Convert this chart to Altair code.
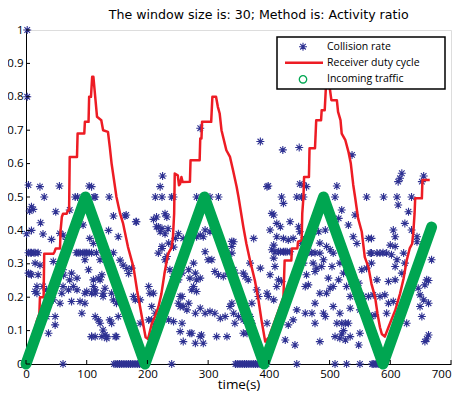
import altair as alt
import pandas as pd

title_text = "The window size is: 30; Method is: Activity ratio"
x_title = "time(s)"
legend_labels = ["Collision rate", "Receiver duty cycle", "Incoming traffic"]
x_ticks = [0, 100, 200, 300, 400, 500, 600, 700]
y_ticks = [0, 0.1, 0.2, 0.3, 0.4, 0.5, 0.6, 0.7, 0.8, 0.9, 1]

BLUE = "#2e3192"
RED = "#ed1c24"
GREEN = "#00a651"
FONT = "Open Sans"

# Incoming traffic (triangle wave vertices)
traffic_t = [0, 98, 196, 294, 392, 490, 588, 668]
traffic_v = [0, 0.5, 0, 0.5, 0, 0.5, 0, 0.41]

# Receiver duty cycle (t, value)
duty_cycle = [
    (0, 0.02), (10, 0.07), (18, 0.13), (22, 0.15), (23, 0.2), (29, 0.2), (30, 0.33), (45, 0.33),
    (47, 0.336), (49, 0.346), (56, 0.346), (57, 0.40), (59, 0.44), (61, 0.45), (67, 0.45), (69, 0.46),
    (71, 0.46), (72, 0.62), (84, 0.62), (85, 0.69), (96, 0.69), (97, 0.725), (103, 0.725), (104, 0.80),
    (107, 0.80), (109, 0.86), (111, 0.86), (114, 0.80), (117, 0.74), (124, 0.73), (127, 0.70),
    (135, 0.695), (138, 0.65), (141, 0.60), (145, 0.55), (149, 0.50), (155, 0.45), (160, 0.42),
    (168, 0.35), (177, 0.29), (183, 0.22), (188, 0.17), (193, 0.12), (197, 0.08), (201, 0.075),
    (207, 0.12), (212, 0.14), (218, 0.17), (223, 0.21), (228, 0.27), (234, 0.33), (240, 0.35),
    (242, 0.38), (244, 0.45), (245, 0.57), (250, 0.565), (252, 0.535), (254, 0.54), (256, 0.56),
    (258, 0.545), (270, 0.546), (271, 0.61), (286, 0.61), (287, 0.675), (289, 0.675), (290, 0.725),
    (305, 0.725), (307, 0.80), (313, 0.80), (316, 0.77), (319, 0.75), (322, 0.70), (330, 0.64),
    (336, 0.62), (341, 0.58), (347, 0.53), (350, 0.50), (358, 0.41), (363, 0.36), (369, 0.31),
    (377, 0.25), (383, 0.19), (388, 0.13), (394, 0.067), (400, 0.08), (410, 0.13), (418, 0.17),
    (424, 0.20), (426, 0.31), (437, 0.31), (438, 0.346), (447, 0.346), (448, 0.366), (454, 0.37),
    (455, 0.45), (457, 0.50), (458, 0.56), (466, 0.56), (467, 0.646), (476, 0.646), (478, 0.73),
    (486, 0.73), (487, 0.76), (492, 0.76), (494, 0.83), (497, 0.87), (500, 0.83), (503, 0.79),
    (512, 0.79), (514, 0.755), (518, 0.73), (520, 0.69), (526, 0.67), (531, 0.636), (535, 0.60),
    (539, 0.536), (542, 0.50), (547, 0.436), (553, 0.396), (558, 0.32), (564, 0.29), (569, 0.24),
    (575, 0.20), (579, 0.15), (583, 0.11), (586, 0.09), (591, 0.082), (597, 0.11), (608, 0.16),
    (616, 0.21), (622, 0.257), (627, 0.31), (632, 0.346), (636, 0.36), (638, 0.396), (640, 0.45),
    (641, 0.496), (652, 0.496), (653, 0.551), (665, 0.551),
]

# Collision rate (t, value), grouped by traffic cycle
collision_a = [
    (2, 1.0), (2, 0.8), (4, 0.536), (23, 0.531), (55, 0.533), (104, 0.533),
    (30, 0.5), (81, 0.5), (85, 0.5), (112, 0.5),
    (9, 0.471), (12, 0.463), (6, 0.458), (49, 0.456), (72, 0.461),
    (24, 0.423), (1, 0.39), (9, 0.4), (28, 0.389), (42, 0.373), (56, 0.391), (61, 0.386), (67, 0.373),
    (70, 0.366), (94, 0.416), (105, 0.376),
    (4, 0.333), (7, 0.333), (9, 0.333), (13, 0.333), (15, 0.333), (20, 0.333), (83, 0.333), (86, 0.333),
    (89, 0.333), (94, 0.333), (97, 0.333), (100, 0.333), (104, 0.333), (108, 0.333),
    (15, 0.302), (23, 0.296), (4, 0.272), (7, 0.27), (9, 0.267), (20, 0.267), (45, 0.307), (61, 0.282),
    (62, 0.266), (72, 0.252), (75, 0.272), (84, 0.257), (97, 0.312), (103, 0.282), (111, 0.252),
    (18, 0.232), (15, 0.217), (18, 0.212), (28, 0.232), (34, 0.222), (59, 0.212), (61, 0.232), (70, 0.222),
    (78, 0.232), (84, 0.222), (97, 0.212), (100, 0.217), (108, 0.212),
    (45, 0.192), (56, 0.182), (75, 0.187), (89, 0.187), (97, 0.182),
    (92, 0.152), (48, 0.142), (34, 0.142), (48, 0.117), (37, 0.092), (108, 0.082), (61, 0.0),
]
collision_b = [
    (108, 0.531), (114, 0.5), (137, 0.5), (116, 0.333), (122, 0.252), (127, 0.212), (141, 0.212), (114, 0.222),
    (144, 0.443), (163, 0.443), (165, 0.446), (181, 0.426), (182, 0.426), (210, 0.433), (215, 0.411), (221, 0.396),
    (136, 0.4), (152, 0.381), (111, 0.361), (136, 0.311),
    (144, 0.333), (155, 0.311), (160, 0.296), (166, 0.286), (169, 0.271), (174, 0.287),
    (122, 0.312), (125, 0.267), (119, 0.257), (111, 0.232), (130, 0.227), (114, 0.212), (127, 0.202),
    (144, 0.192), (149, 0.182), (177, 0.202), (180, 0.192), (188, 0.192), (204, 0.212), (202, 0.232), (210, 0.212),
    (114, 0.142), (119, 0.132), (127, 0.102), (133, 0.082), (141, 0.122), (152, 0.142), (188, 0.122), (207, 0.172),
    (138, 0.132), (122, 0.122),
    (108, 0.082), (114, 0.082), (125, 0.082), (130, 0.087), (133, 0.077), (147, 0.082), (149, 0.082), (182, 0.072),
    (202, 0.132), (207, 0.132), (212, 0.117), (213, 0.152), (215, 0.112),
    (145, 0), (148, 0), (151, 0), (154, 0), (157, 0), (160, 0), (163, 0), (166, 0), (169, 0), (172, 0),
    (175, 0), (178, 0), (181, 0), (184, 0), (187, 0), (190, 0), (193, 0),
]
collision_c = [
    (221, 0.531), (225, 0.563), (213, 0.5), (224, 0.5), (240, 0.5), (243, 0.5), (281, 0.5), (295, 0.5),
    (303, 0.5), (317, 0.5), (287, 0.706),
    (229, 0.45), (232, 0.44), (215, 0.44), (218, 0.41), (234, 0.405), (229, 0.39), (224, 0.406), (251, 0.39),
    (243, 0.35), (224, 0.346), (218, 0.332), (229, 0.312), (235, 0.362), (224, 0.352), (232, 0.322),
    (246, 0.376), (259, 0.376), (281, 0.381), (287, 0.386), (292, 0.381), (295, 0.401), (303, 0.396),
    (339, 0.367), (339, 0.352),
    (295, 0.336), (300, 0.312), (306, 0.312), (311, 0.277), (317, 0.267), (325, 0.262), (333, 0.272), (342, 0.282),
    (276, 0.302), (268, 0.282), (279, 0.272), (257, 0.272), (270, 0.257), (281, 0.252), (287, 0.257),
    (246, 0.272), (251, 0.252), (237, 0.282), (243, 0.262),
    (276, 0.232), (273, 0.222), (281, 0.217), (257, 0.202), (254, 0.172), (268, 0.182),
    (254, 0.202), (251, 0.182), (259, 0.172), (265, 0.162), (279, 0.152),
    (287, 0.167), (295, 0.152), (303, 0.157), (311, 0.152), (320, 0.137), (328, 0.142), (336, 0.172),
    (235, 0.132), (243, 0.127), (257, 0.122), (254, 0.097), (270, 0.092), (259, 0.067), (279, 0.062),
    (292, 0.062), (289, 0.087), (314, 0.082), (331, 0.082), (287, 0.082), (273, 0.092),
    (240, 0.0),
]
collision_d = [
    (399, 0.533), (397, 0.531), (451, 0.539), (421, 0.5), (446, 0.5), (454, 0.5), (424, 0.481),
    (386, 0.666), (423, 0.641), (450, 0.648),
    (405, 0.451), (408, 0.446), (413, 0.421), (419, 0.411), (435, 0.426),
    (402, 0.401), (413, 0.381), (424, 0.376), (432, 0.371), (440, 0.376), (449, 0.411), (451, 0.396),
    (342, 0.366), (339, 0.332), (375, 0.376),
    (408, 0.356), (405, 0.342), (410, 0.336), (416, 0.336), (419, 0.336), (424, 0.336), (427, 0.336),
    (430, 0.336), (435, 0.336),
    (408, 0.317), (410, 0.292), (402, 0.267), (416, 0.252), (421, 0.247), (386, 0.287), (369, 0.302),
    (358, 0.272), (361, 0.262), (344, 0.272), (366, 0.252),
    (397, 0.212), (399, 0.202), (408, 0.192), (413, 0.232), (380, 0.222), (383, 0.202), (372, 0.182),
    (339, 0.182), (342, 0.152), (350, 0.142), (358, 0.132), (344, 0.122), (358, 0.092), (364, 0.092),
    (369, 0.142), (372, 0.122), (397, 0.122), (446, 0.162), (432, 0.117), (440, 0.132), (427, 0.072), (443, 0.057),
    (345, 0), (348, 0), (351, 0), (354, 0), (357, 0), (360, 0), (363, 0), (366, 0), (369, 0), (372, 0),
    (375, 0), (378, 0), (381, 0), (384, 0), (387, 0), (390, 0), (393, 0), (396, 0), (446, 0),
]
collision_e = [
    (457, 0.536), (462, 0.531), (512, 0.533), (537, 0.626),
    (457, 0.5), (493, 0.5), (509, 0.5), (561, 0.5),
    (520, 0.461), (515, 0.436), (531, 0.416), (542, 0.446),
    (564, 0.376), (539, 0.381), (545, 0.361), (454, 0.361), (457, 0.371),
    (482, 0.396), (493, 0.401), (495, 0.352), (484, 0.362),
    (462, 0.332), (484, 0.332), (501, 0.342), (506, 0.332), (567, 0.332), (470, 0.333), (476, 0.333),
    (457, 0.302), (473, 0.302), (479, 0.287), (490, 0.312), (487, 0.292), (504, 0.292), (517, 0.302),
    (523, 0.272), (553, 0.282), (561, 0.287),
    (462, 0.267), (476, 0.277), (498, 0.257), (506, 0.232), (515, 0.252), (528, 0.232), (548, 0.242),
    (460, 0.232), (465, 0.237),
    (484, 0.212), (495, 0.212), (501, 0.227), (534, 0.202), (545, 0.202), (556, 0.202), (564, 0.202), (572, 0.207),
    (476, 0.182), (506, 0.172), (517, 0.152), (534, 0.167), (550, 0.162), (561, 0.152),
    (460, 0.152), (471, 0.152), (490, 0.152), (493, 0.142), (476, 0.122),
    (512, 0.122), (520, 0.122), (526, 0.122), (531, 0.122), (509, 0.082), (517, 0.077), (526, 0.072),
    (534, 0.082), (550, 0.092), (548, 0.057), (484, 0.067), (520, 0.09), (523, 0.1),
    (509, 0), (528, 0), (550, 0), (570, 0),
]
collision_f = [
    (619, 0.571), (616, 0.556), (613, 0.546), (655, 0.563), (652, 0.546),
    (589, 0.5), (611, 0.5), (635, 0.5),
    (613, 0.476), (630, 0.456),
    (624, 0.421), (605, 0.401), (608, 0.381), (635, 0.401),
    (644, 0.381), (644, 0.366), (600, 0.356), (608, 0.352),
    (569, 0.376), (569, 0.332), (578, 0.332), (583, 0.332), (594, 0.332), (602, 0.327), (622, 0.332), (588, 0.333),
    (668, 0.312),
    (611, 0.312), (608, 0.292), (619, 0.272), (624, 0.302), (569, 0.302),
    (578, 0.252), (597, 0.247), (608, 0.252), (660, 0.252), (657, 0.237), (663, 0.25),
    (583, 0.202), (591, 0.207), (597, 0.182), (605, 0.187), (646, 0.227), (649, 0.207), (655, 0.192),
    (663, 0.182), (649, 0.172),
    (575, 0.147), (569, 0.142), (594, 0.152), (627, 0.122), (652, 0.142),
    (663, 0.087), (657, 0.067), (660, 0.075),
    (572, 0), (575, 0), (578, 0), (581, 0), (584, 0), (587, 0), (590, 0),
]

collision = collision_a + collision_b + collision_c + collision_d + collision_e + collision_f
coll_df = pd.DataFrame(collision, columns=["t", "v"])
duty_df = pd.DataFrame(duty_cycle, columns=["t", "v"])
traffic_df = pd.DataFrame({"t": traffic_t, "v": traffic_v})
xt_df = pd.DataFrame({"t": x_ticks, "v": [0] * len(x_ticks)})
yt_df = pd.DataFrame({"v": y_ticks, "t": [0] * len(y_ticks)})
one = pd.DataFrame({"k": [0]})

W, H = 425, 334
STAR = "M-1,0L1,0M0,-1L0,1M-0.7,-0.7L0.7,0.7M-0.7,0.7L0.7,-0.7"

xscale = alt.Scale(domain=[0, 700], nice=False, zero=False)
yscale = alt.Scale(domain=[0, 1], nice=False, zero=False)

xaxis = alt.Axis(values=x_ticks, tickSize=0, labelPadding=4, domainColor="black", domainWidth=1,
                 labelColor="black", labelFont=FONT, labelFontSize=11.5, grid=False,
                 labelOverlap=False, labelFlush=False,
                 labelAlign=alt.expr("datum.value >= 700 ? 'right' : 'center'"),
                 title=x_title, titleFont=FONT, titleFontSize=13.5, titleFontWeight="normal",
                 titleColor="black", titleY=24.5, titleBaseline="alphabetic")
yaxis = alt.Axis(values=y_ticks, format="~g", tickSize=0, labelPadding=3, domainColor="black",
                 domainWidth=1, labelColor="black", labelFont=FONT, labelFontSize=11.5, grid=False,
                 labelOverlap=False, labelFlush=False, labelBound=False, title=None)

X = alt.X("t:Q", scale=xscale, axis=xaxis)
Y = alt.Y("v:Q", scale=yscale, axis=yaxis)

stars = alt.Chart(coll_df).mark_point(shape=STAR, filled=False, size=64, strokeWidth=1.1,
                                      color=BLUE, opacity=1, clip=False).encode(x=X, y=Y)
duty = alt.Chart(duty_df).mark_line(color=RED, strokeWidth=2.5, strokeJoin="round").encode(
    x=X, y=Y, order="t:Q")
traffic = alt.Chart(traffic_df).mark_line(color=GREEN, strokeWidth=11, strokeJoin="round",
                                          strokeCap="round").encode(x=X, y=Y, order="t:Q")

xticks = alt.Chart(xt_df).mark_rule(color="black", strokeWidth=1).encode(
    x=X, y=alt.value(H), y2=alt.value(H - 4))
yticks = alt.Chart(yt_df).mark_rule(color="black", strokeWidth=1).encode(
    y=Y, x=alt.value(0), x2=alt.value(4))

# Title (placed above the plot area)
title = alt.Chart(one).mark_text(align="center", baseline="alphabetic", font="DejaVu Sans",
                                 fontSize=12.6, color="black").encode(
    x=alt.value(232.7), y=alt.value(-11.5), text=alt.value(title_text))

# Legend
LX0, LX1, LY0, LY1 = 251, 419, 7, 59
rows = [16.7, 32.7, 49.3]
leg_box = alt.Chart(one).mark_rect(fill="white", stroke="black", strokeWidth=1.5).encode(
    x=alt.value(LX0), x2=alt.value(LX1), y=alt.value(LY0), y2=alt.value(LY1))
leg_star = alt.Chart(one).mark_point(shape=STAR, filled=False, size=64, strokeWidth=1.1,
                                     color=BLUE, opacity=1).encode(x=alt.value(277), y=alt.value(rows[0]))
leg_line = alt.Chart(one).mark_rule(color=RED, strokeWidth=2.5).encode(
    x=alt.value(259), x2=alt.value(297), y=alt.value(rows[1]))
leg_circ = alt.Chart(one).mark_point(shape="circle", filled=False, size=55, strokeWidth=1.3,
                                     color=GREEN, opacity=1).encode(x=alt.value(277), y=alt.value(rows[2]))
leg_texts = [
    alt.Chart(one).mark_text(align="left", baseline="middle", font=FONT, fontSize=10.5,
                             color="black").encode(x=alt.value(301), y=alt.value(r), text=alt.value(lab))
    for lab, r in zip(legend_labels, rows)
]

chart = alt.layer(stars, duty, traffic, xticks, yticks, title, leg_box, leg_star, leg_line, leg_circ,
                  *leg_texts).properties(
    width=W, height=H,
    autosize=alt.AutoSizeParams(type="none"),
    padding={"left": 18, "top": 22, "right": 4, "bottom": 28},
).configure_view(stroke=None).configure(background="white")

chart.save("out.html", embed_options={"renderer": "svg", "actions": False})
